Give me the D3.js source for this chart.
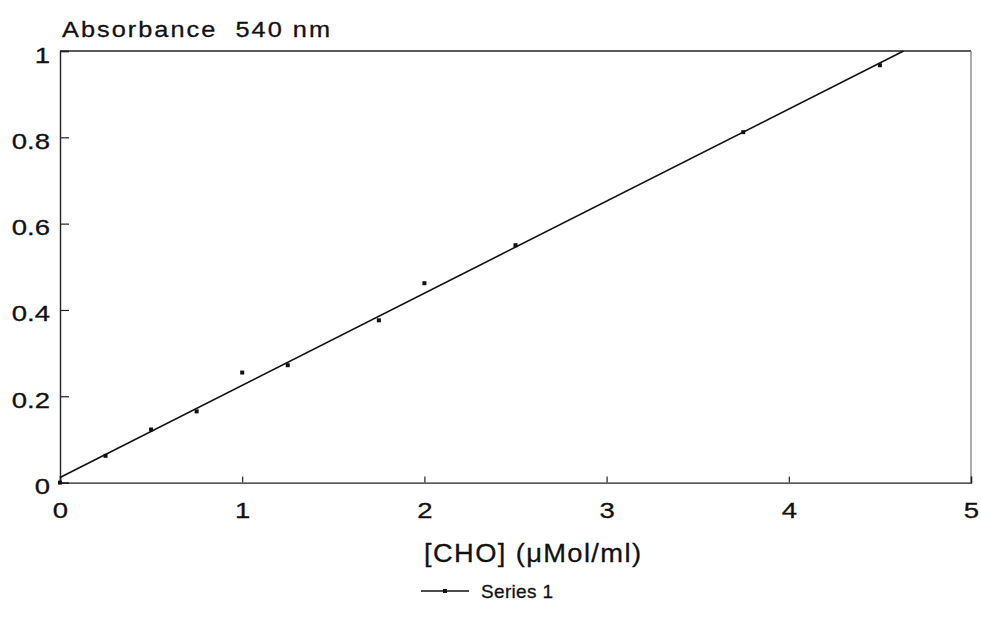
<!DOCTYPE html>
<html><head><meta charset="utf-8">
<script src="https://cdn.jsdelivr.net/npm/d3@7"></script>
<style>body{margin:0;background:#fff}svg{display:block}text{font-family:"Liberation Sans",Arial,sans-serif;fill:#111;stroke:#111;stroke-width:0.3px}</style>
</head><body>
<script>
const concentrations = [0, 0.25, 0.5, 0.75, 1.0, 1.25, 1.75, 2.0, 2.5, 3.75, 4.5];
const absorbance = [0, 0.062, 0.123, 0.165, 0.255, 0.272, 0.376, 0.462, 0.55, 0.812, 0.967];
const fitIntercept = 0.012;
const fitSlope = 0.2134;
const xTicks = [0, 1, 2, 3, 4, 5];
const yTicks = [0, 0.2, 0.4, 0.6, 0.8, 1];
const yTickLabels = ["0", "0.2", "0.4", "0.6", "0.8", "1"];
const seriesName = "Series 1";

const W = 981, H = 633;
const m = {left: 60, top: 51, right: 971, bottom: 482.6};
const svg = d3.select("body").append("svg").attr("width", W).attr("height", H);
const x = d3.scaleLinear().domain([0, 5]).range([m.left, m.right]);
const y = d3.scaleLinear().domain([0, 1]).range([m.bottom, m.top]);

function stretch(sel, factor) {
  sel.each(function() {
    const w = this.getComputedTextLength();
    d3.select(this).attr("textLength", w * factor).attr("lengthAdjust", "spacingAndGlyphs");
  });
}
function wideText(px, py, sx, size, len, str) {
  const g = svg.append("g").attr("transform", `translate(${px},${py}) scale(${sx},1)`);
  return g.append("text").attr("x", 0).attr("y", 0).attr("font-size", size).attr("xml:space", "preserve")
    .attr("textLength", len / sx).attr("lengthAdjust", "spacing").text(str);
}

// frame
svg.append("line").attr("x1", m.left).attr("x2", m.right).attr("y1", m.top).attr("y2", m.top).attr("stroke", "#222").attr("stroke-width", 1.3);
svg.append("line").attr("x1", m.right).attr("x2", m.right).attr("y1", m.top).attr("y2", m.bottom).attr("stroke", "#777").attr("stroke-width", 1.2);

// axes
const xAxis = d3.axisBottom(x).tickValues(xTicks).tickSize(-6).tickPadding(20).tickFormat(d3.format("d"));
const gx = svg.append("g").attr("transform", `translate(0,${m.bottom})`).call(xAxis);
const yAxis = d3.axisLeft(y).tickValues(yTicks).tickSize(-9).tickPadding(10).tickFormat((d, i) => yTickLabels[i]);
const gy = svg.append("g").attr("transform", `translate(${m.left},0)`).call(yAxis);
[gx, gy].forEach(g => {
  g.attr("font-size", null).attr("font-family", null);
  g.select(".domain").attr("stroke", "#222").attr("stroke-width", 1.4);
  g.selectAll(".tick line").attr("stroke", "#222").attr("stroke-width", 1.2);
  g.selectAll(".tick text").attr("font-size", 22).attr("fill", "#111");
  stretch(g.selectAll(".tick text"), 1.25);
});
gy.selectAll(".tick text").attr("dy", "0.5em");
gx.selectAll(".tick text").attr("dy", "0.72em");

// fit line (clipped at y=1)
const xEnd = (1 - fitIntercept) / fitSlope;
svg.append("line")
  .attr("x1", x(0)).attr("y1", y(fitIntercept))
  .attr("x2", x(xEnd)).attr("y2", y(1))
  .attr("stroke", "#111").attr("stroke-width", 1.6);

// points
svg.append("g").selectAll("rect").data(concentrations.map((c, i) => [c, absorbance[i]])).join("rect")
  .attr("x", d => x(d[0]) - 2).attr("y", d => y(d[1]) - 2)
  .attr("width", 4).attr("height", 4).attr("fill", "#111");

// titles
wideText(62, 37, 1.15, 22, 268, "Absorbance  540 nm");
wideText(424, 562, 1.05, 26, 217, "[CHO] (μMol/ml)");

// legend
const lg = svg.append("g");
lg.append("line").attr("x1", 421).attr("x2", 469).attr("y1", 591).attr("y2", 591).attr("stroke", "#111").attr("stroke-width", 1.5);
lg.append("rect").attr("x", 443).attr("y", 589).attr("width", 4).attr("height", 4).attr("fill", "#111");
wideText(481, 598, 1.0, 19, 72, seriesName);
</script>
</body></html>
